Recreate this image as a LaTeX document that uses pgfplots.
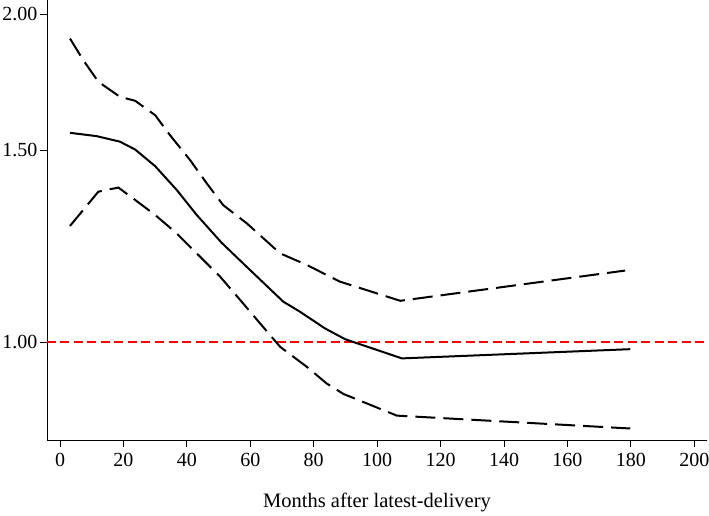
\documentclass[border=0pt]{standalone}
\usepackage{pgfplots}
\pgfplotsset{compat=1.18}
\usetikzlibrary{calc}
\usepackage{fontspec}
\setmainfont{Liberation Serif}
\newcommand{\tickfont}{\fontsize{20bp}{23bp}\selectfont}
\begin{document}
\begin{tikzpicture}
\begin{axis}[
  scale only axis, width=660bp, height=440bp,
  ymode=log,
  xmin=-4.1, xmax=204, ymin=0.813, ymax=2.06,
  axis lines=left, axis line style={-, line width=1pt},
  tick align=outside, major tick length=7bp,
  tick style={black, line width=1pt},
  xtick={0,20,...,200},
  xticklabels={0,20,40,60,80,100,120,140,160,180,200},
  ytick={1,1.5,2}, yticklabels={1.00,1.50,2.00},
  minor tick num=0, minor ytick={},
  xticklabel style={font=\tickfont, yshift=-3bp},
  yticklabel style={font=\tickfont, xshift=1bp},
  xlabel style={font=\fontsize{20.5bp}{23bp}\selectfont, yshift=-19bp},
  xlabel={Months after latest-delivery},
  clip=false,
]
\addplot[red, line width=2.2bp, dash pattern=on 9bp off 4.5bp] coordinates {(-4.1,1) (204,1)};
\addplot[black, line width=2bp] coordinates {
(3.15,1.556) (11.6,1.545) (18.9,1.527) (23.7,1.502) (30.0,1.450) (36.8,1.379) (43.1,1.308) (51.0,1.233) (58.9,1.172) (70.4,1.089) (75.7,1.066) (83.6,1.029) (89.9,1.006) (107.8,0.966) (179.8,0.985)};
\addplot[black, line width=2bp, dash pattern=on 20bp off 8bp] coordinates {
(3.15,1.899) (7.35,1.814) (12.1,1.733) (18.9,1.679) (23.7,1.665) (30.0,1.615) (34.7,1.548) (41.0,1.469) (46.3,1.398) (51.5,1.335) (58.9,1.285) (69.4,1.206) (77.8,1.177) (84.1,1.152) (88.3,1.136) (107.3,1.091) (178.2,1.163)};
\addplot[black, line width=2bp, dash pattern=on 20bp off 8bp] coordinates {
(3.15,1.278) (12.1,1.374) (18.4,1.386) (23.7,1.350) (30.0,1.308) (36.8,1.258) (43.1,1.206) (50.5,1.148) (56.8,1.093) (63.1,1.040) (69.4,0.990) (77.8,0.949) (84.1,0.916) (89.4,0.896) (106.2,0.856) (179.8,0.833)};
\end{axis}
\pgfresetboundingbox
\path[use as bounding box] ($(current axis.south west)+(-47bp,-76bp)$) rectangle ($(current axis.north east)+(2bp,0bp)$);
\end{tikzpicture}
\end{document}
